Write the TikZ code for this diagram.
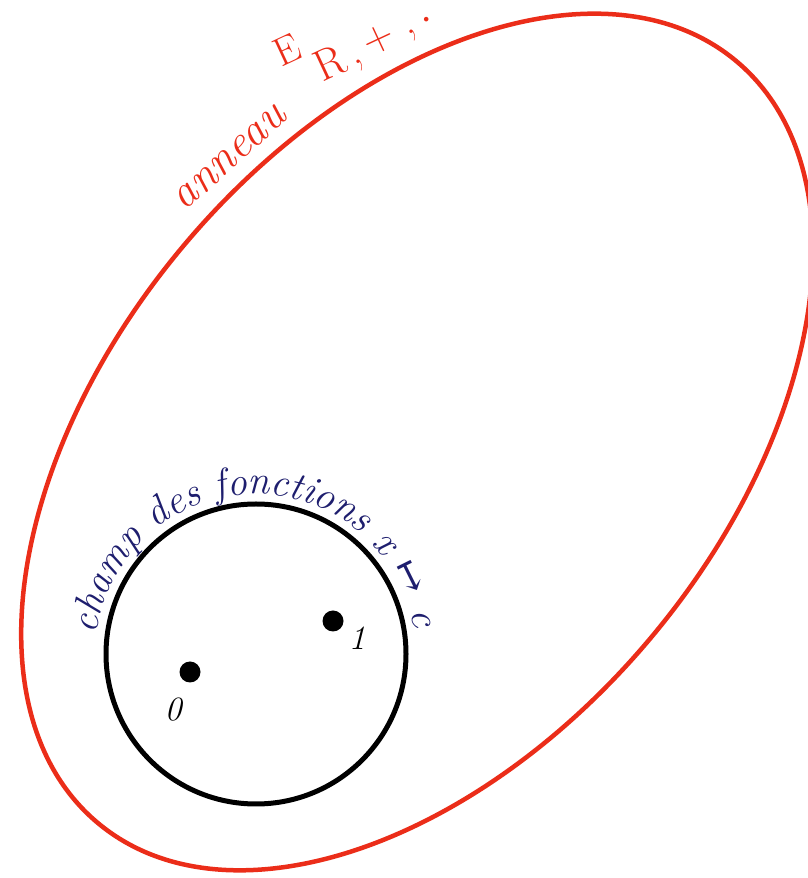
\documentclass[tikz,border=0pt]{standalone}
\usepackage{fontspec}
\newfontfamily\symfont{DejaVu Serif}
\usetikzlibrary{decorations.text}
\definecolor{redink}{RGB}{235,45,25}
\definecolor{blueink}{RGB}{30,30,110}
\tikzset{
  ringline/.style={draw=redink, line width=4.5pt},
  fieldline/.style={draw=black, line width=5pt},
  dotnode/.style={circle, fill=black, inner sep=0pt, minimum size=21pt},
  redtext/.style={text=redink, inner sep=0pt, font=\fontsize{46}{46}\selectfont\itshape},
  redsym/.style={text=redink, inner sep=0pt, rotate=25, font=\fontsize{42}{42}\selectfont},
  numtext/.style={text=black, font=\fontsize{34}{34}\selectfont\itshape}
}
\begin{document}
\begin{tikzpicture}[x=1pt,y=1pt]
\useasboundingbox (0,0) rectangle (808,878);
% ring of functions
\draw[ringline, rotate around={50:(417,436)}] (417,436) ellipse[x radius=497, y radius=305];
% field of constant functions
\draw[fieldline] (256,224) circle[radius=150];
\path[decorate, decoration={text along path, text align=center, text color=blueink,
  text={|\fontsize{40}{40}\selectfont\itshape|champ des fonctions x {\symfont\upshape ↦} c}}]
  (256,224) ++(180:160) arc[start angle=180, end angle=2, radius=160];
% labels of the ring
\node[redtext, rotate=42] (ann) at (230,720) {anneau};
\node[redsym, font=\fontsize{40}{40}\selectfont] (e) at (287,828) {E};
\node[redsym, font=\fontsize{44}{44}\selectfont] (r) at (330,815) {R};
\node[redsym] (c1) at (360,813) {,};
\node[redsym] (plus) at (379,838) {+};
\node[redsym] (c2) at (413,843) {,};
\node[redsym, font=\fontsize{56}{56}\selectfont] (dt) at (430,851) {·};
% elements 0 and 1
\node[dotnode] (zero) at (190,206) {};
\node[dotnode] (one) at (333,257) {};
\node[numtext] (zl) at (173,168) {0};
\node[numtext] (ol) at (357,240) {1};
\end{tikzpicture}
\end{document}
